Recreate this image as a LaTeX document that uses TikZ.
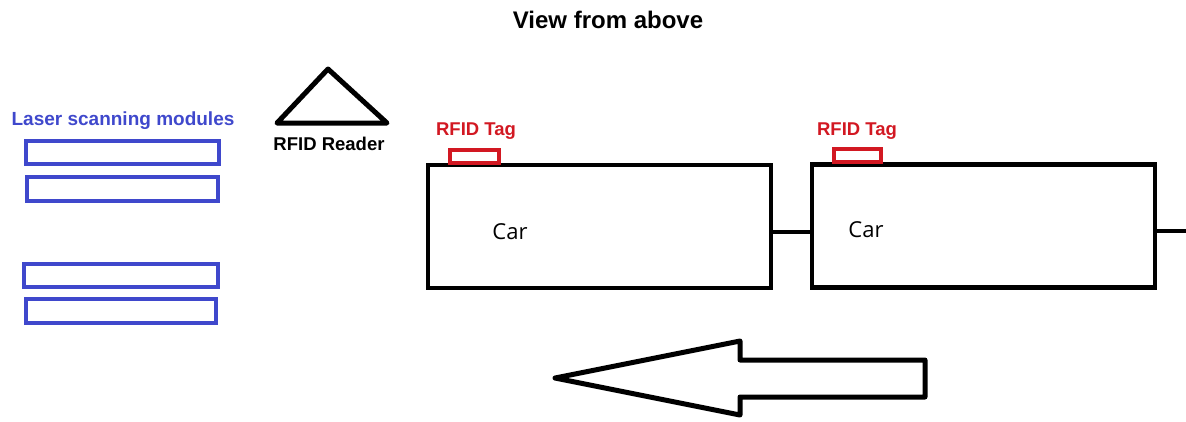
\documentclass[tikz,border=0pt]{standalone}
\usepackage{fontspec}
\setmainfont{Liberation Sans}
\newfontfamily\carfont{Open Sans}
\usetikzlibrary{calc}
\usetikzlibrary{positioning}

\definecolor{laserblue}{RGB}{63,72,204}
\definecolor{tagred}{RGB}{210,24,34}

\begin{document}
\begin{tikzpicture} [x=1pt,y=-1pt,
  lbl/.style={font=\bfseries\fontsize{18.5}{20}\selectfont, inner sep=0},
  laserbox/.style={draw=laserblue, line width=4pt},
  carbox/.style={draw=black, line width=4.5pt, minimum width=343pt, minimum height=123pt, inner sep=0},
  tagbox/.style={draw=tagred, line width=3.5pt, minimum width=49pt, minimum height=13pt, inner sep=0},
  cartext/.style={font=\carfont\fontsize{22}{24}\selectfont, inner sep=0}]
\useasboundingbox (0,0) rectangle (1186,421);
\node[lbl, font=\bfseries\fontsize{24}{26}\selectfont] (title) at (608,20) {View from above};
% laser scanning modules
\node[lbl, text=laserblue, font=\bfseries\fontsize{19}{21}\selectfont] (laser) at (123,121) {Laser scanning modules};
\foreach \xa/\ya/\xb/\yb in {26/141/219/164, 27/177/218/201, 24/264/218/287, 26/299/216/323} {
 \draw[laserbox] (\xa,\ya) rectangle (\xb,\yb);
}
% reader
\draw[line width=5pt, line join=round] (328,69) -- (387,123) -- (277,123) -- cycle;
\node[lbl] (reader) at (329,144) {RFID Reader};
% cars
\node[carbox] (car1) at (599.5,226.5) {};
\node[carbox] (car2) at (983.5,226) {};
\node[cartext] (carlbl1) at (510,232) {Car};
\node[cartext] (carlbl2) at (866,230) {Car};
\coordinate (tail) at (1186,231);
\draw[line width=4pt] (car1.east |- 0,232) -- (car2.west |- 0,232);
\draw[line width=4pt] (car2.east |- tail) -- (tail);
% tags
\node[tagbox] (tag1) at (474.5,156.5) {};
\node[tagbox, minimum width=47pt] (tag2) at (857.5,155.5) {};
\node[lbl, text=tagred] (taglbl1) at (476,131) {RFID Tag};
\node[lbl, text=tagred] (taglbl2) at (857,131) {RFID Tag};
% direction of travel
\draw[line width=5pt, line join=round] (555,378) -- (740,341) -- (740,360) -- (925,360) -- (925,397) -- (740,397) -- (740,415) -- cycle;
\end{tikzpicture}
\end{document}
